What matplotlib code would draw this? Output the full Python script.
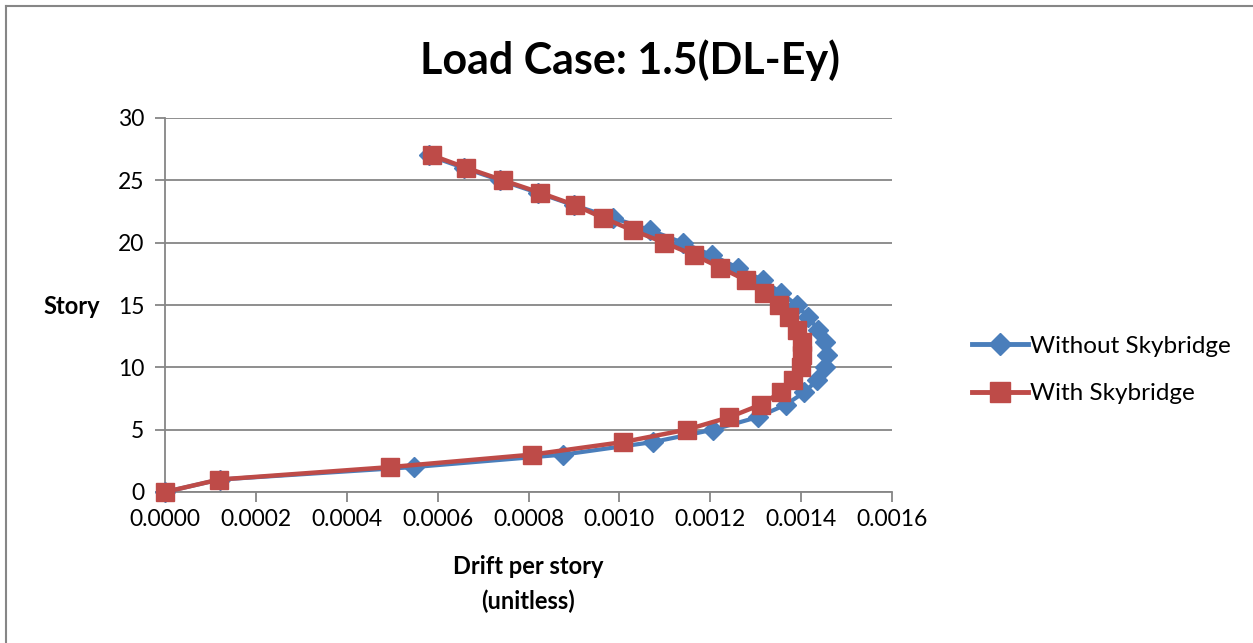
import matplotlib
matplotlib.use("Agg")
import matplotlib.pyplot as plt
from matplotlib.lines import Line2D

plt.rcParams['font.family'] = ['Lato', 'DejaVu Sans']

stories = list(range(0, 28))
without_skybridge = [0.0, 0.00012, 0.000548, 0.000877, 0.001073, 0.001207, 0.001304,
                     0.001366, 0.001407, 0.001436, 0.001452, 0.001456, 0.001452,
                     0.001438, 0.001416, 0.001390, 0.001355, 0.001315, 0.001260,
                     0.001203, 0.001139, 0.001068, 0.000985, 0.000900, 0.000820,
                     0.000738, 0.000657, 0.000580]
with_skybridge = [0.0, 0.000119, 0.000496, 0.000808, 0.001007, 0.001148, 0.001242,
                  0.001311, 0.001355, 0.001383, 0.001399, 0.001403, 0.001401,
                  0.001390, 0.001374, 0.001352, 0.001319, 0.001278, 0.001222,
                  0.001165, 0.001099, 0.001029, 0.000963, 0.000903, 0.000826,
                  0.000744, 0.000663, 0.000588]
xticks = [0.0, 0.0002, 0.0004, 0.0006, 0.0008, 0.0010, 0.0012, 0.0014, 0.0016]
yticks = [0, 5, 10, 15, 20, 25, 30]

blue = '#4A7EBB'
red = '#BE4B48'
grid = '#868686'

W, H = 1253, 643
fig = plt.figure(figsize=(W / 100, H / 100), dpi=100)
ax = fig.add_axes([165 / W, 1 - 492 / H, (892 - 165) / W, (492 - 118) / H])

ax.plot(without_skybridge, stories, color=blue, lw=3, marker='D', ms=10,
        mfc=blue, mec=blue, label='Without Skybridge', zorder=3, clip_on=False)
ax.plot(with_skybridge, stories, color=red, lw=3.2, marker='s', ms=13,
        mfc=red, mec=red, label='With Skybridge', zorder=4, clip_on=False)

ax.set_xlim(0, 0.0016)
ax.set_ylim(0, 30)
ax.set_xticks(xticks)
ax.set_xticklabels(['%.4f' % v for v in xticks])
ax.set_yticks(yticks)
ax.yaxis.grid(True, color=grid, lw=1.3)
ax.set_axisbelow(True)
for s in ['top', 'right']:
    ax.spines[s].set_visible(False)
for s in ['left', 'bottom']:
    ax.spines[s].set_color(grid)
    ax.spines[s].set_linewidth(1.3)
ax.tick_params(axis='both', colors=grid, labelcolor='black', labelsize=16.5,
               length=7, width=1.3)
ax.tick_params(axis='x', pad=5)
ax.tick_params(axis='y', pad=8)

fig.text(630 / W, 1 - 60 / H, 'Load Case: 1.5(DL-Ey)', fontsize=31,
         fontweight='bold', ha='center', va='center')
fig.text(528 / W, 1 - 567 / H, 'Drift per story', fontsize=17,
         fontweight='bold', ha='center', va='center')
fig.text(528 / W, 1 - 601 / H, '(unitless)', fontsize=17,
         fontweight='bold', ha='center', va='center')
fig.text(72 / W, 1 - 306 / H, 'Story', fontsize=17, fontweight='bold',
         ha='center', va='center')

handles = [Line2D([], [], color=blue, lw=3.5, marker='D', ms=11, mec=blue),
           Line2D([], [], color=red, lw=3.5, marker='s', ms=14, mec=red)]
fig.legend(handles, ['Without Skybridge', 'With Skybridge'],
           loc='center left', bbox_to_anchor=(962 / W, 1 - 370 / H),
           frameon=False, fontsize=17.5, handlelength=2.3, handletextpad=0.08,
           labelspacing=1.1, borderaxespad=0)

# outer chart border (left and top edges)
fig.add_artist(Line2D([6 / W, 6 / W], [0, 1 - 6 / H], color=grid, lw=1.5,
                      transform=fig.transFigure))
fig.add_artist(Line2D([6 / W, 1], [1 - 6 / H, 1 - 6 / H], color=grid, lw=1.5,
                      transform=fig.transFigure))

fig.savefig('out.png', dpi=100, facecolor='white')
